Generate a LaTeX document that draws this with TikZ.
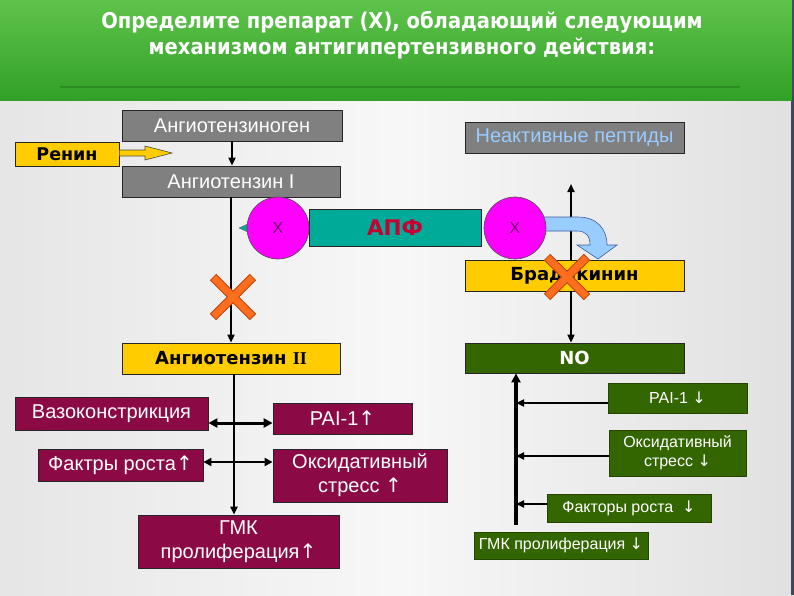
\documentclass[tikz,border=0pt]{standalone}
\usepackage{fontspec}
\setmainfont{Liberation Sans}
\newfontfamily\boldfont{DejaVu Sans}
\newfontfamily\titlefont{DejaVu Sans Condensed}
\newfontfamily\serfont{Liberation Serif}
\newcommand{\upar}{{\boldfont ↑}}
\newcommand{\dnar}{{\boldfont ↓}}
\usetikzlibrary{arrows.meta,calc}
\definecolor{boxgray}{RGB}{128,128,128}
\definecolor{boxyel}{RGB}{255,204,0}
\definecolor{boxteal}{RGB}{0,170,153}
\definecolor{boxmag}{RGB}{255,0,255}
\definecolor{boxmar}{RGB}{139,10,70}
\definecolor{boxgrn}{RGB}{51,102,0}
\definecolor{apfred}{RGB}{200,0,50}
\definecolor{xpurp}{RGB}{110,0,110}
\definecolor{inacttxt}{RGB}{153,204,255}
\definecolor{titlegrn}{RGB}{50,160,40}
\definecolor{titlegrnl}{RGB}{95,195,75}
\definecolor{xorange}{RGB}{255,110,30}
\definecolor{xdark}{RGB}{190,70,10}
\definecolor{barrow}{RGB}{153,204,255}
\definecolor{barrowd}{RGB}{60,90,160}
\definecolor{edgebl}{RGB}{60,72,88}
\tikzset{
  bx/.style={draw=black!85,line width=0.8pt,inner sep=0pt,align=center},
  graybox/.style={bx,fill=boxgray,text=white,font=\fontsize{20}{22}\selectfont},
  yelbox/.style={bx,fill=boxyel,text=black,font=\boldfont\bfseries\fontsize{18}{20}\selectfont},
  marbox/.style={bx,fill=boxmar,text=white,font=\fontsize{20}{24}\selectfont},
  grnbox/.style={bx,draw=boxgrn!70!black,fill=boxgrn,text=white,font=\fontsize{16}{19}\selectfont},
  xcirc/.style={circle,draw=black!70,line width=0.6pt,fill=boxmag,text=xpurp,minimum size=62pt,inner sep=0pt,font=\fontsize{16}{16}\selectfont},
  arr/.style={draw=black,line width=1.8pt,-{Triangle[length=8pt,width=7pt]}},
  dblarr/.style={draw=black,line width=3pt,{Triangle[length=9pt,width=9pt]}-{Triangle[length=9pt,width=9pt]}},
  dblarrb/.style={draw=black,line width=2.4pt,{Triangle[length=8pt,width=8pt]}-{Triangle[length=8pt,width=8pt]}},
  rarr/.style={draw=black,line width=2.6pt,-{Triangle[length=8pt,width=7pt]}},
  vrarr/.style={draw=black,line width=3.4pt,-{Triangle[length=9pt,width=9pt]}},
}
\newcommand{\crossmark}[1]{%
  \draw[xdark,line width=9pt] ($(#1)+(-20,-20)$) -- ($(#1)+(20,20)$);
  \draw[xdark,line width=9pt] ($(#1)+(-20,20)$) -- ($(#1)+(20,-20)$);
  \draw[xorange,line width=7pt,shorten <=1pt,shorten >=1pt] ($(#1)+(-20,-20)$) -- ($(#1)+(20,20)$);
  \draw[xorange,line width=7pt,shorten <=1pt,shorten >=1pt] ($(#1)+(-20,20)$) -- ($(#1)+(20,-20)$);}
\begin{document}
\begin{tikzpicture}[x=1pt,y=-1pt]
\useasboundingbox (0,0) rectangle (794,595);
% background
\shade[left color=black!10,right color=black!12,middle color=black!3] (0,0) rectangle (794,595);
\fill[edgebl] (791,0) rectangle (794,595);
% title bar
\shade[top color=titlegrnl,bottom color=titlegrn] (0,0) rectangle (792,100);
\draw[titlegrn!60!black,line width=1.5pt,opacity=0.35] (60,87) -- (740,87);
\node[text=white,font=\titlefont\bfseries\fontsize{21.7}{26}\selectfont,align=center] (title) at (402,35)
  {Определите препарат (X), обладающий следующим\\механизмом антигипертензивного действия:};

% left chain
\node[graybox,minimum width=220pt,minimum height=31pt] (agen) at (232,125.5) {Ангиотензиноген};
\node[yelbox,font=\boldfont\bfseries\fontsize{17.5}{20}\selectfont,minimum width=104pt,minimum height=24pt] (renin) at (67,154) {Ренин};
\node[graybox,minimum width=218pt,minimum height=31pt] (ang1) at (231,181.5) {Ангиотензин I};
\node[yelbox,minimum width=218pt,minimum height=31pt] (ang2) at (231,358.5) {Ангиотензин {\serfont\bfseries II}};

% renin arrow
\filldraw[fill=boxyel,draw=black!70,line width=0.6pt]
  (renin.east |- 0,150) -- (145,150) -- (145,146) -- (172,153) -- (145,160) -- (145,156) -- (renin.east |- 0,156) -- cycle;

% arrows left chain
\draw[arr] (agen.south) -- (agen.south |- ang1.north);
\draw[arr] (ang1.south) -- (ang1.south |- ang2.north);

% APF complex
\fill[boxteal,draw=black!60,line width=0.4pt] (239,228) -- (250,223) -- (250,233) -- cycle;
\node[bx,fill=boxteal,minimum width=172pt,minimum height=37pt,text=apfred,font=\boldfont\bfseries\fontsize{21.5}{22}\selectfont] (apf) at (395,227.5) {АПФ};
\node[xcirc] (cL) at (278,228) {X};

% right chain
\node[graybox,text=inacttxt,minimum width=219pt,minimum height=31pt] (inact) at (574.5,137.5) {Неактивные пептиды};
\node[yelbox,minimum width=219pt,minimum height=31pt] (brad) at (574.5,275.5) {Брадикинин};
\node[bx,fill=boxgrn,text=white,font=\boldfont\bfseries\fontsize{18}{20}\selectfont,minimum width=219pt,minimum height=30pt] (no) at (574.5,358) {NO};
\coordinate (bt) at (571,184);
\draw[arr] (brad.north -| bt) -- (bt);
\draw[arr] (brad.south -| bt) -- (no.north -| bt);

% blue curved arrow
\filldraw[fill=barrow,draw=barrowd,line width=0.6pt]
  (540,217) -- (578,217) .. controls (597,217) and (607,229) .. (607,245) -- (617,245) -- (598,259) -- (577,245)
  -- (590,245) .. controls (590,236) and (586,231) .. (577,231) -- (540,231) -- cycle;
\node[xcirc] (cR) at (515,228) {X};

% crosses
\coordinate (x1) at (233,297);
\coordinate (x2) at (567,277);
\crossmark{x1}
\crossmark{x2}

% left effects
\node[marbox,minimum width=193pt,minimum height=33pt] (vaso) at (111.5,413.5) {Вазоконстрикция};
\node[marbox,minimum width=139pt,minimum height=31pt] (pai) at (342.5,418.5) {PAI-1\upar};
\node[marbox,minimum width=165pt,minimum height=32pt] (fact) at (120.5,465) {Фактры роста\upar};
\node[marbox,minimum width=174pt,minimum height=53pt] (oks) at (360,475.5) {Оксидативный\\стресс \upar};
\node[marbox,minimum width=201pt,minimum height=53pt] (gmk) at (238.5,541.5) {ГМК\\пролиферация\upar};
\coordinate (lv) at (234,0);
\draw[arr,line width=2.4pt] (ang2.south -| lv) -- (gmk.north -| lv);
\coordinate (h1) at (0,423);
\coordinate (h2) at (0,462);
\draw[dblarr] (vaso.east |- h1) -- (pai.west |- h1);
\draw[dblarrb] (fact.east |- h2) -- (oks.west |- h2);

% right effects
\node[grnbox,minimum width=139pt,minimum height=30pt] (paiR) at (677.5,398) {PAI-1 \dnar};
\node[grnbox,minimum width=137pt,minimum height=46pt] (oksR) at (677.5,453) {Оксидативный\\стресс \dnar};
\node[grnbox,minimum width=164pt,minimum height=28pt] (factR) at (629,508) {Факторы роста \ \dnar};
\node[grnbox,minimum width=174pt,minimum height=27pt] (gmkR) at (561,545.5) {ГМК пролиферация \dnar};
\coordinate (vx) at (516,0);
\coordinate (vb) at (516,525);
\draw[vrarr] (vb) -- (no.south -| vx);
\coordinate (h3) at (0,403);
\coordinate (h4) at (0,456);
\coordinate (h5) at (0,504);
\draw[rarr] (paiR.west |- h3) -- (vx |- h3);
\draw[rarr] (oksR.west |- h4) -- (vx |- h4);
\draw[rarr] (factR.west |- h5) -- (vx |- h5);
\end{tikzpicture}
\end{document}
